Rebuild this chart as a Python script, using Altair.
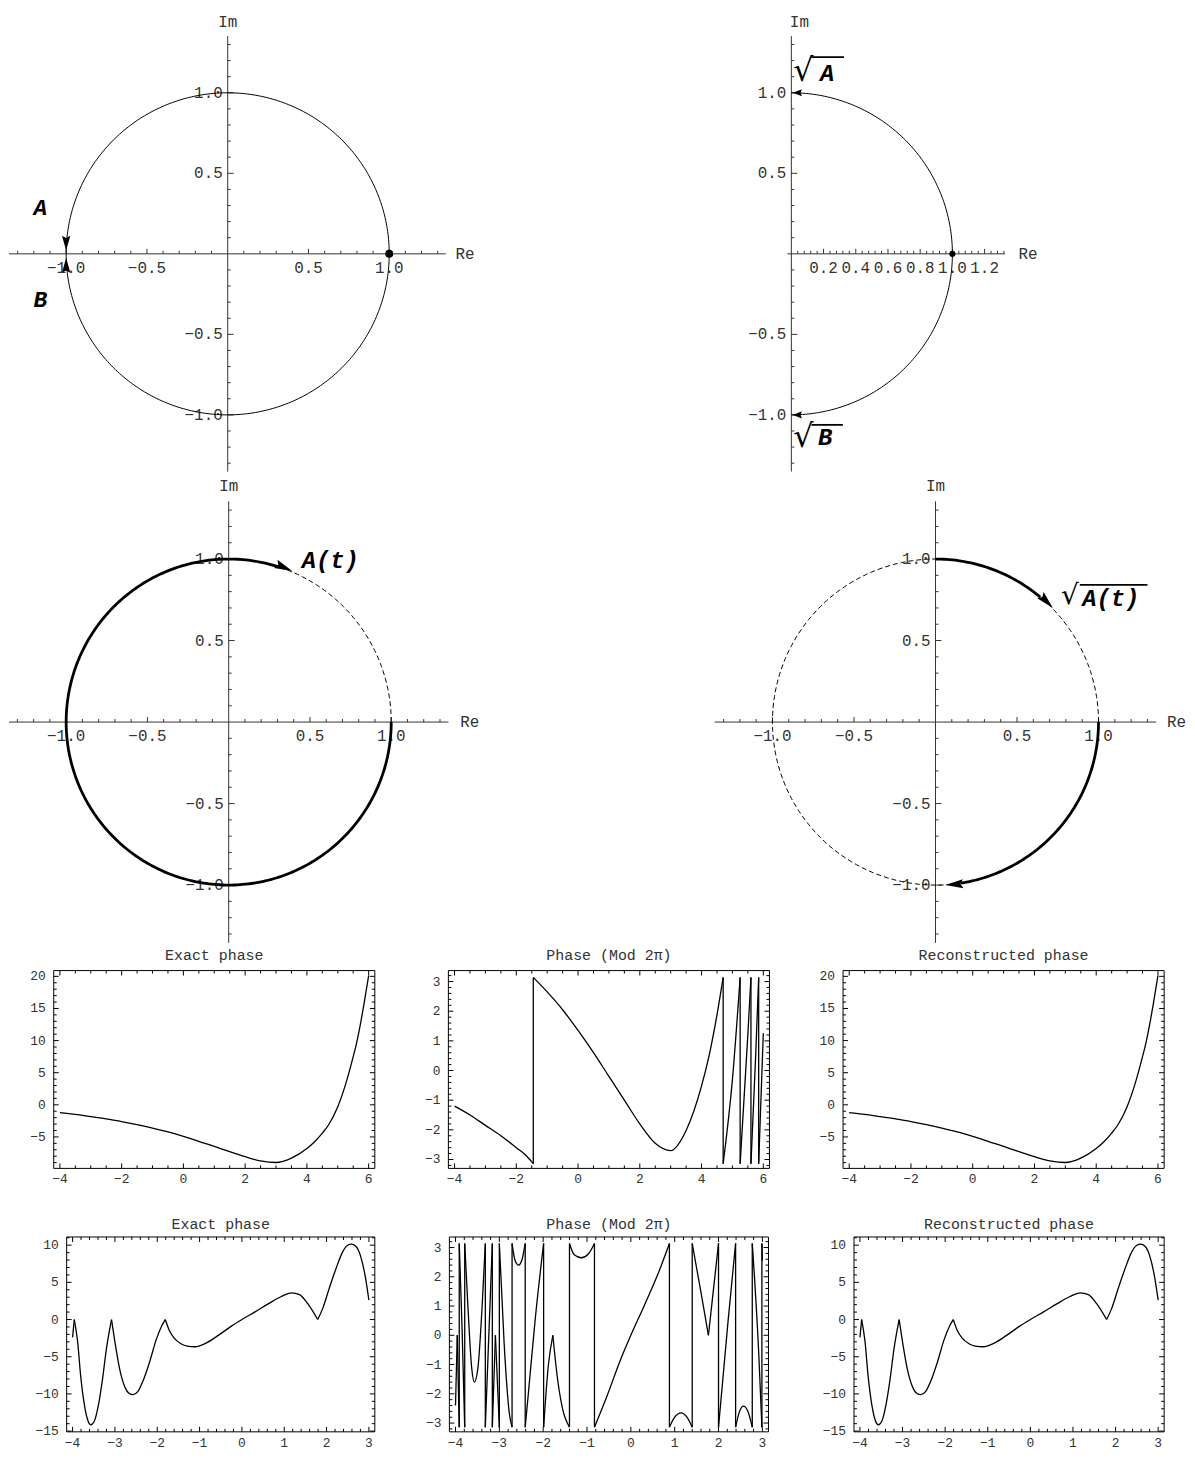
import math
import altair as alt
import pandas as pd

FONT = "Liberation Mono"
TXT = "#333333"
AX = "#333333"

# ====================== DATA ======================
# tick labels of the complex-plane panels
PM_TICKS = [-1.0, -0.5, 0.5, 1.0]
PM_LABELS = ["−1.0", "−0.5", "0.5", "1.0"]
TR_X_TICKS = [0.2, 0.4, 0.6, 0.8, 1.0, 1.2]
TR_X_LABELS = ["0.2", "0.4", "0.6", "0.8", "1.0", "1.2"]

# Panel TL : unit circle, arrows A / B at -1, dot at 1
TL_CIRCLE = [0, 360]
TL_DOT_X, TL_DOT_Y = [1.0], [0.0]
TL_ARROW_X = [-1.0, -1.0]
TL_ARROW_Y = [0.02, -0.025]
TL_ARROW_ROT = [180, 0]
TL_TEXT = ["A", "B"]
TL_TEXT_X = [-1.16, -1.16]
TL_TEXT_Y = [0.285, -0.285]

# Panel TR : right half circle, sqrt(A) / sqrt(B)
TR_ARC = [-90, 90]
TR_DOT_X, TR_DOT_Y = [1.0], [0.0]
TR_ARROW_X = [0.01, 0.01]
TR_ARROW_Y = [1.0, -1.0]
TR_ARROW_ROT = [270, 270]
TR_TEXT = ["A", "B"]
TR_TEXT_X = [0.222, 0.21]
TR_TEXT_Y = [1.115, -1.145]
TR_RAD_X = [0.012, 0.012]
TR_RAD_Y = [1.032, -1.24]
TR_BAR_X1 = [0.125, 0.125]
TR_BAR_X2 = [0.327, 0.32]
TR_BAR_Y = [1.222, -1.062]

# Panel ML : A(t)
ML_THICK_ARC = [72, 360]
ML_DASH_ARC = [0, 72]
ML_ARROW_X, ML_ARROW_Y, ML_ARROW_ROT = [0.391], [0.927], [113]
ML_TEXT, ML_TEXT_X, ML_TEXT_Y = ["A(t)"], [0.625], [0.99]

# Panel MR : sqrt(A(t))
MR_DASH_ARC = [0, 360]
MR_THICK_ARCS = [[50, 90], [-81, 0]]
MR_ARROW_X = [0.72, 0.06]
MR_ARROW_Y = [0.70, -1.0]
MR_ARROW_ROT = [136, 266]
MR_TEXT, MR_TEXT_X, MR_TEXT_Y = ["A(t)"], [1.075], [0.755]
MR_RAD_X, MR_RAD_Y = [0.77], [0.686]
MR_BAR_X1, MR_BAR_X2, MR_BAR_Y = [0.885], [1.30], [0.841]

# Row 3 : exact / mod 2pi / reconstructed phase on [-4, 6]
R3_EXACT_X = [-4.0, -3.5, -3.0, -2.5, -2.0, -1.5, -1.0, -0.5, 0.0, 0.5, 1.0, 1.5, 2.0,
              2.5, 3.0, 3.5, 4.0, 4.25, 4.5, 4.7, 5.0, 5.25, 5.5, 5.6, 5.75, 5.85, 6.0]
R3_EXACT_Y = [-1.2, -1.5, -1.85, -2.2, -2.6, -3.08, -3.63, -4.23, -4.93, -5.68, -6.48, -7.28, -8.08,
              -8.73, -8.98, -8.3, -6.8, -5.75, -4.4, -3.14, -0.3, 3.14, 7.5, 9.42, 13.0, 15.7, 20.1]
R3_RECON_X = list(R3_EXACT_X)
R3_RECON_Y = list(R3_EXACT_Y)
R3_MOD = [
    ([-4.0, -3.5, -3.0, -2.5, -2.0, -1.7, -1.45], [-1.2, -1.5, -1.85, -2.2, -2.6, -2.85, -3.14]),
    ([-1.45, -1.0, -0.5, 0.0, 0.5, 1.0, 1.5, 2.0, 2.5, 3.0, 3.5, 4.0, 4.25, 4.5, 4.7],
     [3.14, 2.65, 2.05, 1.35, 0.6, -0.2, -1.0, -1.8, -2.45, -2.7, -2.02, -0.52, 0.53, 1.88, 3.14]),
    ([4.7, 5.0, 5.25], [-3.14, -0.3, 3.14]),
    ([5.25, 5.5, 5.6], [-3.14, 1.22, 3.14]),
    ([5.6, 5.75, 5.85], [-3.14, 0.43, 3.14]),
    ([5.85, 6.0], [-3.14, 1.26]),
]

# Row 4 : exact / mod 2pi / reconstructed phase on [-4, 3] (pieces split at cusps)
R4_EXACT = [
    ([-4.0, -3.96], [-2.4, 0.0]),
    ([-3.96, -3.88, -3.81, -3.72, -3.63, -3.57, -3.49, -3.39, -3.29, -3.20, -3.08],
     [0.0, -3.0, -7.5, -11.5, -13.7, -14.15, -13.7, -11.5, -7.9, -3.9, 0.0]),
    ([-3.08, -3.0, -2.89, -2.77, -2.67, -2.57, -2.46, -2.34, -2.18, -2.03, -1.89, -1.81],
     [0.0, -3.0, -6.6, -9.0, -9.9, -10.1, -9.7, -8.3, -5.7, -2.8, -0.8, 0.0]),
    ([-1.81, -1.72, -1.60, -1.44, -1.29, -1.11, -0.86, -0.55, -0.24, 0.0, 0.31, 0.62, 0.93, 1.17, 1.36, 1.56, 1.79],
     [0.0, -1.4, -2.5, -3.25, -3.57, -3.66, -3.2, -2.1, -0.85, 0.0, 1.03, 2.1, 3.1, 3.6, 3.35, 2.1, 0.0]),
    ([1.79, 1.91, 2.06, 2.22, 2.38, 2.49, 2.59, 2.69, 2.80, 2.92, 3.0],
     [0.0, 1.5, 4.15, 6.8, 9.1, 9.95, 10.13, 9.85, 8.6, 5.6, 2.6]),
]
R4_RECON = [(list(a), list(b)) for a, b in R4_EXACT]
R4_MOD = [
    ([-4.0, -3.96], [-2.4, 0.0]),
    ([-3.96, -3.915], [0.0, -3.14]),
    ([-3.915, -3.85, -3.79], [3.14, 0.2, -3.14]),
    ([-3.79, -3.72, -3.63, -3.57, -3.49, -3.39, -3.32], [3.14, 1.07, -1.13, -1.6, -1.13, 1.07, 3.14]),
    ([-3.32, -3.24, -3.16], [-3.14, 0.0, 3.14]),
    ([-3.16, -3.09], [-3.14, 0.0]),
    ([-3.09, -3.0], [0.0, -3.14]),
    ([-3.0, -2.89, -2.77, -2.71], [3.14, -0.3, -2.7, -3.14]),
    ([-2.71, -2.64, -2.56, -2.48, -2.41], [3.14, 2.55, 2.40, 2.6, 3.14]),
    ([-2.41, -2.34, -2.18, -1.99], [-3.14, -2.02, 0.58, 3.14]),
    ([-1.99, -1.88, -1.78], [-3.14, -1.0, 0.0]),
    ([-1.78, -1.68, -1.56, -1.40], [0.0, -1.4, -2.5, -3.14]),
    ([-1.40, -1.29, -1.13, -0.97, -0.83], [3.14, 2.75, 2.65, 2.78, 3.14]),
    ([-0.83, -0.55, -0.24, 0.0, 0.31, 0.62, 0.88], [-3.14, -2.1, -0.85, 0.0, 1.03, 2.1, 3.14]),
    ([0.88, 1.0, 1.15, 1.28, 1.40], [-3.14, -2.8, -2.65, -2.8, -3.14]),
    ([1.40, 1.50, 1.62, 1.77], [3.14, 2.3, 1.3, 0.0]),
    ([1.77, 1.88, 2.0], [0.0, 1.5, 3.14]),
    ([2.0, 2.22, 2.39], [-3.14, 0.52, 3.14]),
    ([2.39, 2.48, 2.57, 2.67, 2.77], [-3.14, -2.6, -2.42, -2.6, -3.14]),
    ([2.77, 2.92, 2.99], [3.14, -0.68, -3.14]),
    ([2.99, 3.0], [3.14, 2.55]),
]

# frame ticks and labels
R3_X_MAJOR = [-4, -2, 0, 2, 4, 6]
R3_X_LABELS = ["−4", "−2", "0", "2", "4", "6"]
R4_X_MAJOR = [-4, -3, -2, -1, 0, 1, 2, 3]
R4_X_LABELS = ["−4", "−3", "−2", "−1", "0", "1", "2", "3"]
EXACT3_Y_MAJOR = [-5, 0, 5, 10, 15, 20]
EXACT3_Y_LABELS = ["−5", "0", "5", "10", "15", "20"]
EXACT4_Y_MAJOR = [-15, -10, -5, 0, 5, 10]
EXACT4_Y_LABELS = ["−15", "−10", "−5", "0", "5", "10"]
MOD_Y_MAJOR = [-3, -2, -1, 0, 1, 2, 3]
MOD_Y_LABELS = ["−3", "−2", "−1", "0", "1", "2", "3"]


# ====================== HELPERS ======================
def minors(lo, hi, step, majors):
    out = []
    n = int(round((hi - lo) / step))
    for i in range(n + 1):
        v = round(lo + i * step, 6)
        if all(abs(v - m) > 1e-6 for m in majors):
            out.append(v)
    return out


def arc_df(a0, a1, step=1.0):
    n = max(2, int(round(abs(a1 - a0) / step)))
    rows = []
    for i in range(n + 1):
        a = math.radians(a0 + (a1 - a0) * i / n)
        rows.append({"x": math.cos(a), "y": math.sin(a), "o": i})
    return pd.DataFrame(rows)


def arrow_path(half_w, notch=0.85):
    return f"M0,0L{-half_w},1L0,{notch}L{half_w},1Z"


def plane(W, H, ox, oy, sx, sy, axis_x, axis_y, xt, xl, xminor, yt, yl, yminor,
          curves, dots, dot_size, arrows, arrow_len, arrow_hw, texts, text_size,
          radicals=None, rad_size=36, bars=None, re_x=1.41, im_x=0.0, im_y=1.44):
    xdom = [(0 - ox) / sx, (W - ox) / sx]
    ydom = [-(H - oy) / sy, oy / sy]
    xs = alt.Scale(domain=xdom, nice=False, zero=False)
    ys = alt.Scale(domain=ydom, nice=False, zero=False)

    def X(f):
        return alt.X(f, scale=xs, axis=None)

    def Y(f):
        return alt.Y(f, scale=ys, axis=None)

    L = []
    L.append(alt.Chart(pd.DataFrame({"x": [axis_x[0]], "x2": [axis_x[1]], "y": [0.0]}))
             .mark_rule(color=AX, strokeWidth=1).encode(x=X("x:Q"), x2="x2:Q", y=Y("y:Q")))
    L.append(alt.Chart(pd.DataFrame({"x": [0.0], "y": [axis_y[0]], "y2": [axis_y[1]]}))
             .mark_rule(color=AX, strokeWidth=1).encode(x=X("x:Q"), y=Y("y:Q"), y2="y2:Q"))
    for vals, ln in ((xt, 5), (xminor, 3)):
        d = pd.DataFrame({"x": vals, "y": [0.0] * len(vals)})
        L.append(alt.Chart(d).mark_rule(color=AX, strokeWidth=1, y2Offset=-ln)
                 .encode(x=X("x:Q"), y=Y("y:Q"), y2="y:Q"))
    for vals, ln in ((yt, 6), (yminor, 3)):
        d = pd.DataFrame({"y": vals, "x": [0.0] * len(vals)})
        L.append(alt.Chart(d).mark_rule(color=AX, strokeWidth=1, x2Offset=ln)
                 .encode(x=X("x:Q"), x2="x:Q", y=Y("y:Q")))
    d = pd.DataFrame({"x": xt, "y": [0.0] * len(xt), "t": xl})
    L.append(alt.Chart(d).mark_text(font=FONT, fontSize=16, color=TXT, dy=14, baseline="middle")
             .encode(x=X("x:Q"), y=Y("y:Q"), text="t:N"))
    d = pd.DataFrame({"y": yt, "x": [0.0] * len(yt), "t": yl})
    L.append(alt.Chart(d).mark_text(font=FONT, fontSize=16, color=TXT, dx=-5, align="right", baseline="middle")
             .encode(x=X("x:Q"), y=Y("y:Q"), text="t:N"))
    L.append(alt.Chart(pd.DataFrame({"x": [re_x], "y": [0.0], "t": ["Re"]}))
             .mark_text(font=FONT, fontSize=16, color=TXT, align="left", baseline="middle")
             .encode(x=X("x:Q"), y=Y("y:Q"), text="t:N"))
    L.append(alt.Chart(pd.DataFrame({"x": [im_x], "y": [im_y], "t": ["Im"]}))
             .mark_text(font=FONT, fontSize=16, color=TXT, align="center", baseline="middle")
             .encode(x=X("x:Q"), y=Y("y:Q"), text="t:N"))
    for df, sw, dash in curves:
        kw = {"strokeDash": dash} if dash else {}
        L.append(alt.Chart(df).mark_line(color="black", strokeWidth=sw, **kw)
                 .encode(x=X("x:Q"), y=Y("y:Q"), order="o:Q"))
    if dots is not None:
        L.append(alt.Chart(dots).mark_circle(color="black", opacity=1, size=dot_size)
                 .encode(x=X("x:Q"), y=Y("y:Q")))
    if arrows is not None:
        L.append(alt.Chart(arrows).mark_point(shape=arrow_path(arrow_hw), filled=True, color="black",
                                              opacity=1, size=4 * arrow_len * arrow_len, strokeWidth=0)
                 .encode(x=X("x:Q"), y=Y("y:Q"), angle=alt.Angle("r:Q", scale=None)))
    if texts is not None:
        L.append(alt.Chart(texts).mark_text(font=FONT, fontSize=text_size, fontWeight="bold",
                                            fontStyle="italic", color="black", baseline="middle")
                 .encode(x=X("x:Q"), y=Y("y:Q"), text="t:N"))
    if radicals is not None:
        L.append(alt.Chart(radicals).mark_text(font="DejaVu Sans", fontSize=rad_size, color="black",
                                               align="left", baseline="bottom")
                 .encode(x=X("x:Q"), y=Y("y:Q"), text="t:N"))
    if bars is not None:
        L.append(alt.Chart(bars).mark_rule(color="black", strokeWidth=1.8)
                 .encode(x=X("x:Q"), x2="x2:Q", y=Y("y:Q")))
    return alt.layer(*L).properties(width=W, height=H)


def pieces_df(pieces):
    rows = []
    seg = 0
    prev = None
    for xs_, ys_ in pieces:
        if prev is not None and (prev[0] != xs_[0] or prev[1] != ys_[0]):
            rows.append({"x": prev[0], "y": prev[1], "s": seg, "o": 0})
            rows.append({"x": xs_[0], "y": ys_[0], "s": seg, "o": 1})
            seg += 1
        for i, (a, b) in enumerate(zip(xs_, ys_)):
            rows.append({"x": a, "y": b, "s": seg, "o": i})
        seg += 1
        prev = (xs_[-1], ys_[-1])
    return pd.DataFrame(rows)


def frame(pieces, fdx, fdy, RW, RH, fl, fr, ft, fb, xmaj, xlab, xmin, ymaj, ylab, ymin,
          title, title_dy):
    """A framed plot drawn inside a region RW x RH; the frame occupies local px fl..fr, ft..fb."""
    sx = (fr - fl) / (fdx[1] - fdx[0])
    sy = (fb - ft) / (fdy[1] - fdy[0])
    xdom = [fdx[0] - fl / sx, fdx[1] + (RW - fr) / sx]
    ydom = [fdy[0] - (RH - fb) / sy, fdy[1] + ft / sy]
    xs = alt.Scale(domain=xdom, nice=False, zero=False)
    ys = alt.Scale(domain=ydom, nice=False, zero=False)

    def X(f):
        return alt.X(f, scale=xs, axis=None)

    def Y(f):
        return alt.Y(f, scale=ys, axis=None)

    x0, x1 = fdx
    y0, y1 = fdy
    L = [alt.Chart(pd.DataFrame({"a": [x0], "b": [x1], "c": [y0], "d": [y1]}))
         .mark_rect(fillOpacity=0, stroke="black", strokeWidth=1)
         .encode(x=X("a:Q"), x2="b:Q", y=Y("c:Q"), y2="d:Q")]
    df = pieces_df(pieces)
    L.append(alt.Chart(df).mark_line(color="black", strokeWidth=1.3, interpolate="monotone")
             .encode(x=X("x:Q"), y=Y("y:Q"), detail="s:N", order="o:Q"))
    for vals, ln in ((xmaj, 5), (xmin, 3)):
        d = pd.DataFrame({"x": vals, "b": [y0] * len(vals), "t": [y1] * len(vals)})
        L.append(alt.Chart(d).mark_rule(color="black", strokeWidth=1, y2Offset=-ln)
                 .encode(x=X("x:Q"), y=Y("b:Q"), y2="b:Q"))
        L.append(alt.Chart(d).mark_rule(color="black", strokeWidth=1, y2Offset=ln)
                 .encode(x=X("x:Q"), y=Y("t:Q"), y2="t:Q"))
    for vals, ln in ((ymaj, 5), (ymin, 3)):
        d = pd.DataFrame({"y": vals, "l": [x0] * len(vals), "r": [x1] * len(vals)})
        L.append(alt.Chart(d).mark_rule(color="black", strokeWidth=1, x2Offset=ln)
                 .encode(y=Y("y:Q"), x=X("l:Q"), x2="l:Q"))
        L.append(alt.Chart(d).mark_rule(color="black", strokeWidth=1, x2Offset=-ln)
                 .encode(y=Y("y:Q"), x=X("r:Q"), x2="r:Q"))
    d = pd.DataFrame({"x": xmaj, "y": [y0] * len(xmaj), "t": xlab})
    L.append(alt.Chart(d).mark_text(font=FONT, fontSize=13, color=TXT, baseline="top", dy=5)
             .encode(x=X("x:Q"), y=Y("y:Q"), text="t:N"))
    d = pd.DataFrame({"y": ymaj, "x": [x0] * len(ymaj), "t": ylab})
    L.append(alt.Chart(d).mark_text(font=FONT, fontSize=13, color=TXT, align="right",
                                    baseline="middle", dx=-8)
             .encode(x=X("x:Q"), y=Y("y:Q"), text="t:N"))
    d = pd.DataFrame({"x": [(x0 + x1) / 2], "y": [y1], "t": [title]})
    L.append(alt.Chart(d).mark_text(font=FONT, fontSize=15, color=TXT, baseline="middle", dy=title_dy)
             .encode(x=X("x:Q"), y=Y("y:Q"), text="t:N"))
    return alt.layer(*L).properties(width=RW, height=RH)


# ====================== PANELS ======================
PM_MINOR = minors(-1.3, 1.3, 0.1, PM_TICKS + [0.0])

tl = plane(480, 468, 220, 243, 162.5, 162.0, (-1.354, 1.35), (-1.352, 1.352),
           PM_TICKS, PM_LABELS, PM_MINOR, PM_TICKS, PM_LABELS, PM_MINOR,
           [(arc_df(*TL_CIRCLE), 1.0, None)], pd.DataFrame({"x": TL_DOT_X, "y": TL_DOT_Y}), 64,
           pd.DataFrame({"x": TL_ARROW_X, "y": TL_ARROW_Y, "r": TL_ARROW_ROT}), 15, 0.28,
           pd.DataFrame({"x": TL_TEXT_X, "y": TL_TEXT_Y, "t": TL_TEXT}), 23)

tr = plane(487, 468, 95, 243, 162.0, 162.0, (-0.025, 1.327), (-1.352, 1.352),
           TR_X_TICKS, TR_X_LABELS, minors(0.0, 1.32, 0.04, TR_X_TICKS + [0.0]),
           PM_TICKS, PM_LABELS, PM_MINOR,
           [(arc_df(*TR_ARC), 1.0, None)], pd.DataFrame({"x": TR_DOT_X, "y": TR_DOT_Y}), 38,
           pd.DataFrame({"x": TR_ARROW_X, "y": TR_ARROW_Y, "r": TR_ARROW_ROT}), 9, 0.4,
           pd.DataFrame({"x": TR_TEXT_X, "y": TR_TEXT_Y, "t": TR_TEXT}), 24,
           radicals=pd.DataFrame({"x": TR_RAD_X, "y": TR_RAD_Y, "t": ["√", "√"]}), rad_size=32,
           bars=pd.DataFrame({"x": TR_BAR_X1, "x2": TR_BAR_X2, "y": TR_BAR_Y}), im_x=0.05)

ml = plane(480, 468, 221, 246, 163.5, 164.0, (-1.352, 1.352), (-1.354, 1.354),
           PM_TICKS, PM_LABELS, PM_MINOR, PM_TICKS, PM_LABELS, PM_MINOR,
           [(arc_df(*ML_THICK_ARC), 2.8, None), (arc_df(*ML_DASH_ARC), 1.0, [5, 3])], None, 0,
           pd.DataFrame({"x": ML_ARROW_X, "y": ML_ARROW_Y, "r": ML_ARROW_ROT}), 18, 0.25,
           pd.DataFrame({"x": ML_TEXT_X, "y": ML_TEXT_Y, "t": ML_TEXT}), 24,
           re_x=1.425, im_y=1.45)

mr_curves = [(arc_df(*MR_DASH_ARC), 1.0, [5, 3])]
for a0, a1 in MR_THICK_ARCS:
    mr_curves.append((arc_df(a0, a1), 2.8, None))
mr = plane(487, 468, 240, 246, 164.0, 164.0, (-1.354, 1.354), (-1.354, 1.354),
           PM_TICKS, PM_LABELS, PM_MINOR, PM_TICKS, PM_LABELS, PM_MINOR,
           mr_curves, None, 0,
           pd.DataFrame({"x": MR_ARROW_X, "y": MR_ARROW_Y, "r": MR_ARROW_ROT}), 18, 0.25,
           pd.DataFrame({"x": MR_TEXT_X, "y": MR_TEXT_Y, "t": MR_TEXT}), 24,
           radicals=pd.DataFrame({"x": MR_RAD_X, "y": MR_RAD_Y, "t": ["√"]}), rad_size=28,
           bars=pd.DataFrame({"x": MR_BAR_X1, "x2": MR_BAR_X2, "y": MR_BAR_Y}),
           re_x=1.42, im_y=1.45)

R3_XDOM = [-4.2, 6.2]
R4_XDOM = [-4.14, 3.14]
r3_xmin = minors(-4.0, 6.0, 0.5, R3_X_MAJOR)
r4_xmin = minors(-4.0, 3.0, 0.2, R4_X_MAJOR)
e3_ymin = minors(-9.0, 20.0, 1.0, EXACT3_Y_MAJOR)
e4_ymin = minors(-15.0, 11.0, 1.0, EXACT4_Y_MAJOR)
mod_ymin = minors(-3.2, 3.2, 0.2, MOD_Y_MAJOR)

# row 3 regions: page y 944..1190 ; row 4 regions: page y 1190..1450
f31 = frame([(R3_EXACT_X, R3_EXACT_Y)], R3_XDOM, [-9.9, 20.9], 392, 246, 45, 368, 27, 226,
            R3_X_MAJOR, R3_X_LABELS, r3_xmin, EXACT3_Y_MAJOR, EXACT3_Y_LABELS, e3_ymin, "Exact phase", -16)
f32 = frame(R3_MOD, R3_XDOM, [-3.3, 3.37], 395, 246, 50, 373, 27, 226,
            R3_X_MAJOR, R3_X_LABELS, r3_xmin, MOD_Y_MAJOR, MOD_Y_LABELS, mod_ymin, "Phase (Mod 2π)", -16)
f33 = frame([(R3_RECON_X, R3_RECON_Y)], R3_XDOM, [-9.9, 20.9], 392, 246, 52, 375, 27, 226,
            R3_X_MAJOR, R3_X_LABELS, r3_xmin, EXACT3_Y_MAJOR, EXACT3_Y_LABELS, e3_ymin,
            "Reconstructed phase", -16)

f41 = frame(R4_EXACT, R4_XDOM, [-15.1, 11.1], 392, 260, 58, 368, 49, 245,
            R4_X_MAJOR, R4_X_LABELS, r4_xmin, EXACT4_Y_MAJOR, EXACT4_Y_LABELS, e4_ymin, "Exact phase", -13)
f42 = frame(R4_MOD, R4_XDOM, [-3.3, 3.36], 395, 260, 51, 372, 49, 245,
            R4_X_MAJOR, R4_X_LABELS, r4_xmin, MOD_Y_MAJOR, MOD_Y_LABELS, mod_ymin, "Phase (Mod 2π)", -13)
f43 = frame(R4_RECON, R4_XDOM, [-15.1, 11.1], 392, 260, 63, 375, 49, 245,
            R4_X_MAJOR, R4_X_LABELS, r4_xmin, EXACT4_Y_MAJOR, EXACT4_Y_LABELS, e4_ymin,
            "Reconstructed phase", -13)

row1 = alt.hconcat(tl, tr, spacing=212)
row2 = alt.hconcat(ml, mr, spacing=212)
row3 = alt.hconcat(f31, f32, f33, spacing=0)
row4 = alt.hconcat(f41, f42, f43, spacing=0)

chart = alt.vconcat(row1, row2, row3, row4, spacing=0).properties(padding=0).configure_view(
    stroke=None
)

chart.save("out.html", embed_options={"renderer": "svg", "actions": False})
